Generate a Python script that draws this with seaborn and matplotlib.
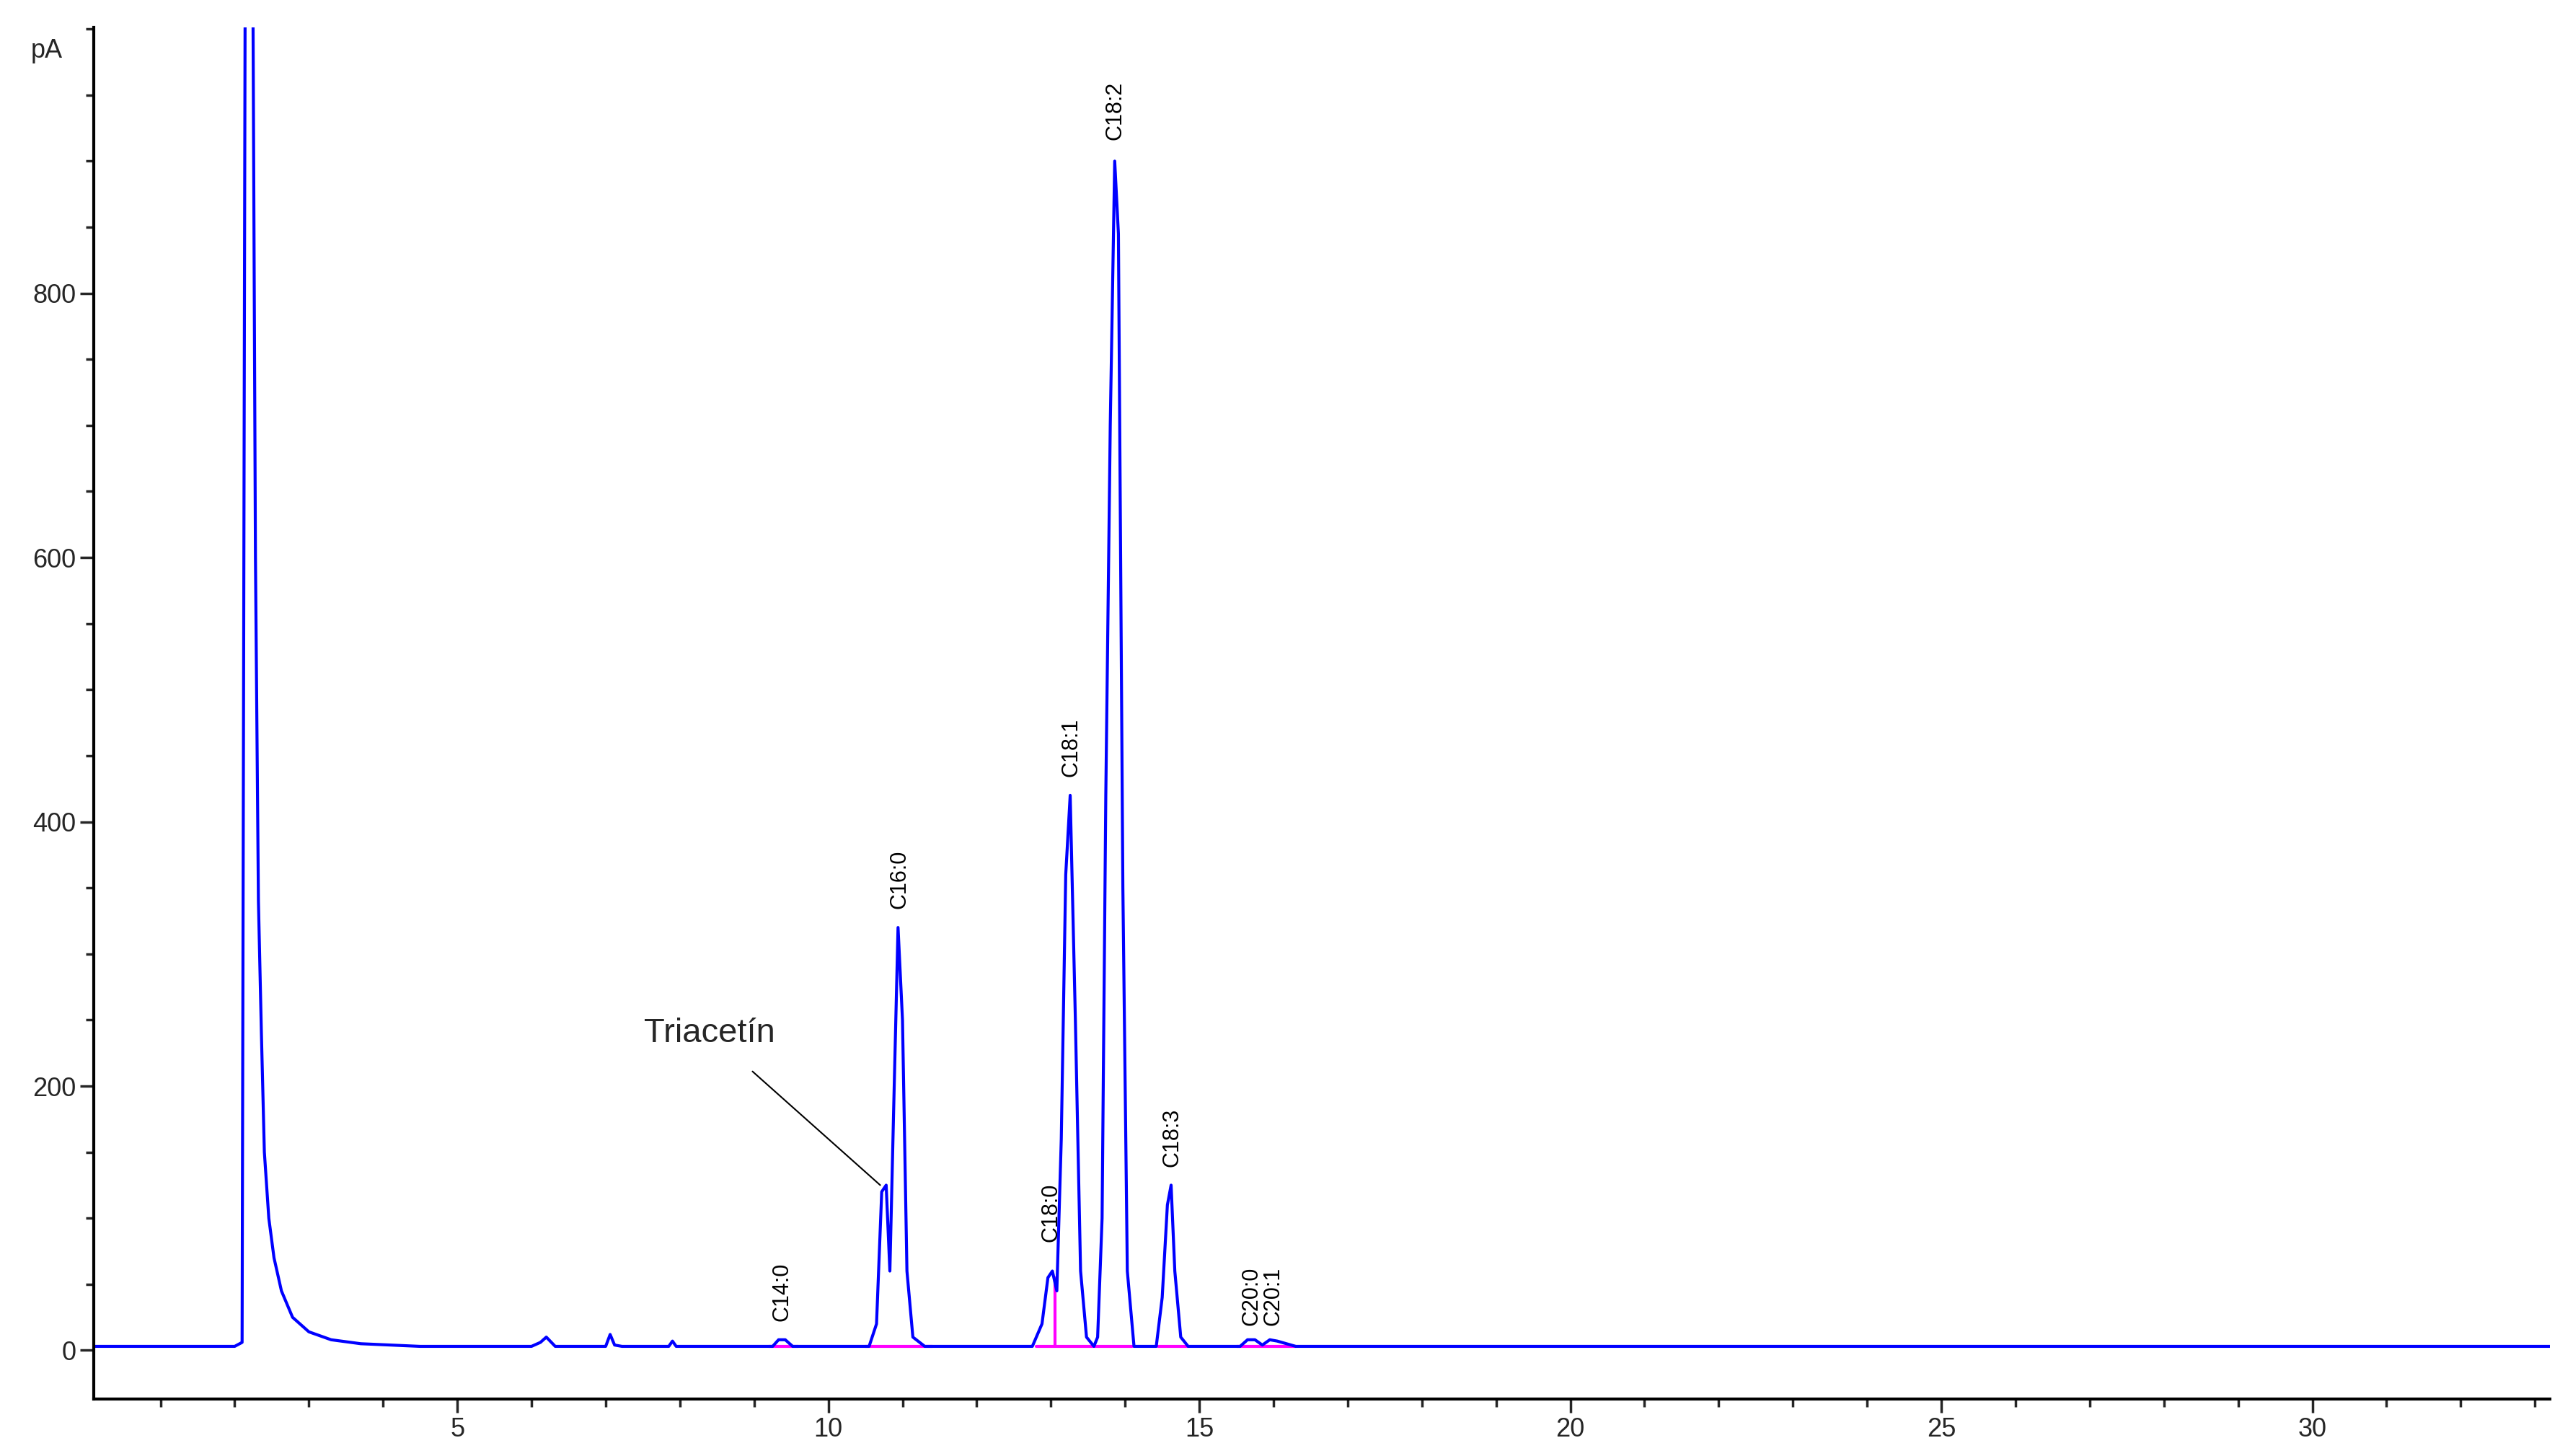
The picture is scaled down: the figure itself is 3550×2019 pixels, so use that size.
import matplotlib
matplotlib.use("Agg")
import matplotlib.pyplot as plt
import seaborn as sns
import pandas as pd
from matplotlib.ticker import MultipleLocator

sns.set_theme(style="white")
plt.rcParams['font.family'] = ['Liberation Sans', 'DejaVu Sans']

# chromatogram trace (min, pA)
time = [0.1, 2.0, 2.1, 2.14, 2.18, 2.24, 2.28, 2.32, 2.36, 2.4, 2.46, 2.53, 2.63, 2.78, 3.0, 3.3, 3.7, 4.5,
        6.0, 6.12, 6.2, 6.32, 7.0, 7.06, 7.12, 7.22, 7.85, 7.9, 7.95, 9.25, 9.33, 9.42, 9.52,
        10.55, 10.65, 10.72, 10.78, 10.83, 10.88, 10.94, 11.0, 11.06, 11.14, 11.3,
        12.75, 12.88, 12.96, 13.02, 13.08, 13.14, 13.2, 13.26, 13.33, 13.4, 13.48, 13.58,
        13.63, 13.69, 13.74, 13.8, 13.86, 13.91, 13.97, 14.03, 14.12,
        14.42, 14.5, 14.57, 14.62, 14.67, 14.75, 14.85,
        15.55, 15.65, 15.75, 15.85, 15.95, 16.05, 16.3, 33.2]
signal = [3, 3, 6, 1000, 1100, 1100, 600, 340, 240, 150, 100, 70, 45, 25, 14, 8, 5, 3,
          3, 6, 10, 3, 3, 12, 4, 3, 3, 7, 3, 3, 8, 8, 3,
          3, 20, 120, 125, 60, 180, 320, 250, 60, 10, 3,
          3, 20, 55, 60, 45, 160, 360, 420, 250, 60, 10, 3,
          10, 100, 420, 700, 900, 845, 350, 60, 3,
          3, 40, 110, 125, 60, 10, 3,
          3, 8, 8, 4, 8, 7, 3, 3]

peak_labels = ["C14:0", "C16:0", "C18:0", "C18:1", "C18:2", "C18:3", "C20:0", "C20:1"]
peak_times = [9.38, 10.96, 13.0, 13.27, 13.87, 14.63, 15.7, 16.0]
peak_label_y = [18, 330, 78, 430, 912, 135, 15, 15]

baseline_segments = [(9.2, 9.6), (10.5, 11.4), (12.8, 14.1), (14.45, 14.85), (15.5, 16.3)]

df = pd.DataFrame({"t": time, "s": signal})

fig = plt.figure(figsize=(35.5, 20.19), dpi=100)
ax = fig.add_axes([0.0366, 0.039, 0.9594, 0.942])
for a, b in baseline_segments:
    ax.plot([a, b], [3, 3], color="#ff00ff", lw=3, zorder=1)
ax.plot([13.06, 13.06], [3, 55], color="#ff00ff", lw=3, zorder=1)
sns.lineplot(data=df, x="t", y="s", ax=ax, color="#0000ff", lw=3, zorder=2)

for lab, t, y in zip(peak_labels, peak_times, peak_label_y):
    ax.text(t, y + 4, lab, rotation=90, ha="center", va="bottom", fontsize=22, color="black")

ax.annotate("Triacetín", xy=(10.7, 125), xytext=(8.4, 240), fontsize=34,
            ha="center", va="center",
            arrowprops=dict(arrowstyle="-", color="black", lw=1.5, shrinkA=30, shrinkB=0))

ax.set_xlim(0.1, 33.2)
ax.set_ylim(-37, 1001)
ax.xaxis.set_minor_locator(MultipleLocator(1))
ax.yaxis.set_minor_locator(MultipleLocator(50))
ax.set_xticks([5, 10, 15, 20, 25, 30])
ax.set_yticks([0, 200, 400, 600, 800])
ax.tick_params(axis="both", which="major", length=14, width=2.5, labelsize=26, bottom=True, left=True)
ax.tick_params(axis="both", which="minor", length=8, width=2.5, bottom=True, left=True)
ax.set_xlabel("")
ax.set_ylabel("")
for side in ["top", "right"]:
    ax.spines[side].set_visible(False)
for side in ["left", "bottom"]:
    ax.spines[side].set_color("black")
    ax.spines[side].set_linewidth(3)
fig.text(0.012, 0.965, "pA", fontsize=26, ha="left", va="center")

fig.savefig("out.png", dpi=100)
